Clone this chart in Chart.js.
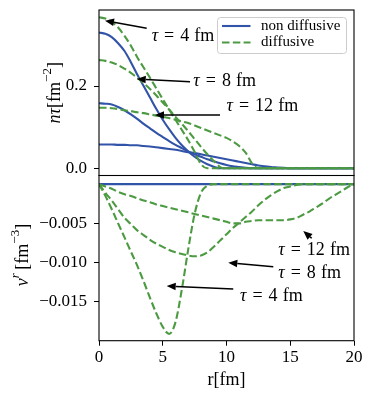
<!DOCTYPE html>
<html>
<head>
<meta charset="utf-8">
<script src="https://cdn.jsdelivr.net/npm/chart.js@4.4.1/dist/chart.umd.min.js"></script>
<style>
  html, body { margin: 0; padding: 0; background: #fff; }
  #wrap { position: relative; width: 374px; height: 402px; }
  #topChart { position: absolute; left: 0; top: 0; }
  #botChart { position: absolute; left: 0; top: 175px; }
</style>
</head>
<body>
<div id="wrap">
  <canvas id="topChart" width="374" height="176"></canvas>
  <canvas id="botChart" width="374" height="227"></canvas>
</div>
<script>
// radial grid (fm)
const rGrid = [0,0.5,1,1.5,2,2.5,3,3.5,4,4.5,5,5.5,6,6.5,7,7.5,8,8.5,9,9.5,10,
  10.5,11,11.5,12,12.5,13,13.5,14,14.5,15,15.5,16,16.5,17,17.5,18,18.5,19,19.5,20];

// n*tau [fm^-2], non diffusive, tau = 4, 8, 12 fm
const nNonDiff4 = [0.330,0.327,0.319,0.304,0.285,0.258,0.228,0.200,0.172,0.144,0.118,0.095,0.074,0.056,0.041,0.028,0.018,0.010,0.004,0.000,
  0,0,0,0,0,0,0,0,0,0,0,0,0,0,0,0,0,0,0,0,0];
const nNonDiff8 = [0.158,0.157,0.155,0.149,0.141,0.131,0.120,0.108,0.097,0.086,0.076,0.066,0.057,0.049,0.041,0.034,0.028,0.022,0.017,0.012,
  0.008,0.005,0.003,0.001,0.000,0,0,0,0,0,0,0,0,0,0,0,0,0,0,0,0];
const nNonDiff12 = [0.058,0.058,0.058,0.057,0.057,0.056,0.056,0.054,0.053,0.051,0.049,0.047,0.045,0.042,0.039,0.037,0.034,0.031,0.028,0.025,
  0.022,0.019,0.016,0.013,0.010,0.007,0.005,0.003,0.002,0.001,0.000,0,0,0,0,0,0,0,0,0,0];

// n*tau [fm^-2], diffusive
const nDiff4 = [0.367,0.364,0.356,0.342,0.322,0.298,0.270,0.245,0.220,0.194,0.168,0.143,0.118,0.093,0.068,0.040,0.010,0.000,
  0,0,0,0,0,0,0,0,0,0,0,0,0,0,0,0,0,0,0,0,0,0,0];
const nDiff8 = [0.263,0.261,0.257,0.251,0.242,0.232,0.220,0.207,0.193,0.177,0.160,0.143,0.125,0.108,0.090,0.071,0.052,0.034,0.018,0.003,
  0.000,0,0,0,0,0,0,0,0,0,0,0,0,0,0,0,0,0,0,0,0];
const nDiff12 = [0.147,0.147,0.146,0.144,0.141,0.139,0.136,0.134,0.131,0.128,0.125,0.122,0.118,0.114,0.110,0.104,0.098,0.092,0.086,0.080,
  0.074,0.065,0.054,0.038,0.012,0.000,0,0,0,0,0,0,0,0,0,0,0,0,0,0,0];

// nu^r [fm^-3]
const nuNonDiff = [0,0,0,0,0,0,0,0,0,0,0,0,0,0,0,0,0,0,0,0,0,0,0,0,0,0,0,0,0,0,0,0,0,0,0,0,0,0,0,0,0];
const nuDiff4 = [0,-0.0015,-0.0032,-0.0050,-0.0068,-0.0086,-0.0104,-0.0124,-0.0145,-0.0165,-0.0182,-0.0191,-0.0176,-0.0134,-0.0083,-0.0038,
  -0.0011,-0.0002,0,0,0,0,0,0,0,0,0,0,0,0,0,0,0,0,0,0,0,0,0,0,0];
const nuDiff8 = [0,-0.0011,-0.0021,-0.0032,-0.0043,-0.0051,-0.0059,-0.0065,-0.0071,-0.0076,-0.0080,-0.0084,-0.0087,-0.0089,-0.0091,-0.0092,
  -0.0091,-0.0087,-0.0080,-0.0072,-0.0064,-0.0056,-0.0049,-0.0042,-0.0035,-0.0027,-0.0020,-0.0014,-0.0009,-0.0005,-0.0003,-0.0001,0,
  0,0,0,0,0,0,0,0];
const nuDiff12 = [0,-0.0003,-0.0006,-0.0010,-0.0013,-0.0015,-0.0018,-0.0021,-0.0023,-0.0026,-0.0028,-0.0030,-0.0032,-0.0034,-0.0036,-0.0038,
  -0.0040,-0.0042,-0.0044,-0.0046,-0.0048,-0.0050,-0.0050,-0.0048,-0.0047,-0.0046,-0.0046,-0.0046,-0.0046,-0.0046,-0.0045,-0.0043,
  -0.0039,-0.0035,-0.0030,-0.0025,-0.0019,-0.0014,-0.0009,-0.0004,0];

// ticks
const rTicks = [0, 5, 10, 15, 20];
const nTicks = [0, 0.2];
const nuTicks = [-0.015, -0.010, -0.005];

// legend + annotations (data coordinates)
const seriesNames = ['non diffusive', 'diffusive'];
const tauValues = [4, 8, 12];
const topArrowTip = [[0.47, 0.3587], [2.96, 0.2170], [4.39, 0.1295]];
const topArrowTail = [[3.74, 0.3402], [7.14, 0.2104], [9.49, 0.1295]];
const topTextAt = [[4.13, 0.3198], [7.40, 0.2104], [10.0, 0.1497]];
const botArrowTip = [[5.31, -0.0130], [10.14, -0.01003], [16.02, -0.00598]];
const botArrowTail = [[10.53, -0.01338], [13.67, -0.01054], [16.68, -0.00691]];
const botTextAt = [[11.06, -0.01436], [14.06, -0.01138], [14.06, -0.00841]];

const FONT = '"Liberation Serif", "DejaVu Serif", serif';
const FS = 17;
const BLUE = 'rgb(50, 84, 168)';
const GREEN = 'rgb(76, 154, 66)';
const DASH = [7.5, 3.3];

function pts(arr) { return rGrid.map((x, i) => ({ x: x, y: arr[i] })); }

function line(arr, diffusive) {
  return {
    data: pts(arr),
    borderColor: diffusive ? GREEN : BLUE,
    borderWidth: 2.1,
    borderDash: diffusive ? DASH : [],
    pointRadius: 0,
    fill: false,
    cubicInterpolationMode: 'monotone',
    order: diffusive ? 0 : 1
  };
}

function font(style, size) {
  const it = style.indexOf('it') >= 0 ? 'italic ' : '';
  const sz = style.indexOf('sup') >= 0 ? Math.round(size * 0.7) : size;
  return it + sz + 'px ' + FONT;
}
function richWidth(ctx, parts, size) {
  let w = 0;
  for (const [t, s] of parts) { ctx.font = font(s, size); w += ctx.measureText(t).width; }
  return w;
}
function drawRich(ctx, parts, x, y, size) {
  for (const [t, s] of parts) {
    ctx.font = font(s, size);
    ctx.fillText(t, x, s.indexOf('sup') >= 0 ? y - size * 0.4 : y);
    x += ctx.measureText(t).width;
  }
}
function drawRotated(ctx, parts, cx, cy, size) {
  ctx.save();
  ctx.translate(cx, cy);
  ctx.rotate(-Math.PI / 2);
  ctx.textBaseline = 'middle';
  ctx.textAlign = 'left';
  drawRich(ctx, parts, -richWidth(ctx, parts, size) / 2, 0, size);
  ctx.restore();
}

function arrow(ctx, x0, y0, x1, y1) {
  const a = Math.atan2(y1 - y0, x1 - x0), hl = 9, hw = 3.8;
  const c = Math.cos(a), s = Math.sin(a);
  ctx.save();
  ctx.strokeStyle = '#000';
  ctx.fillStyle = '#000';
  ctx.lineWidth = 1.5;
  ctx.beginPath();
  ctx.moveTo(x0, y0);
  ctx.lineTo(x1 - hl * c, y1 - hl * s);
  ctx.stroke();
  ctx.beginPath();
  ctx.moveTo(x1, y1);
  ctx.lineTo(x1 - hl * c + hw * s, y1 - hl * s - hw * c);
  ctx.lineTo(x1 - hl * c - hw * s, y1 - hl * s + hw * c);
  ctx.closePath();
  ctx.fill();
  ctx.restore();
}

// math-like spacing: tau = N fm
function tauText(t) {
  return [['\u03c4', 'it'], ['\u2004=\u2004', 'rm'], [String(t), 'rm'], ['\u2009\u200afm', 'rm']];
}

function annotate(chart, tips, tails, texts) {
  const ctx = chart.ctx, sx = chart.scales.x, sy = chart.scales.y;
  ctx.save();
  ctx.fillStyle = '#000';
  ctx.textBaseline = 'middle';
  ctx.textAlign = 'left';
  tauValues.forEach((t, i) => {
    arrow(ctx, sx.getPixelForValue(tails[i][0]), sy.getPixelForValue(tails[i][1]),
      sx.getPixelForValue(tips[i][0]), sy.getPixelForValue(tips[i][1]));
    drawRich(ctx, tauText(t), sx.getPixelForValue(texts[i][0]), sy.getPixelForValue(texts[i][1]), 18);
  });
  ctx.restore();
}

function frame(chart) {
  const ctx = chart.ctx, a = chart.chartArea;
  ctx.save();
  ctx.strokeStyle = '#000';
  ctx.lineWidth = 1.1;
  ctx.strokeRect(a.left, a.top, a.right - a.left, a.bottom - a.top);
  ctx.restore();
}

function legendBox(chart) {
  const ctx = chart.ctx, a = chart.chartArea;
  const w = 129, h = 36, rad = 3;
  const l = a.right - 7.5 - w, t = a.top + 7.5;
  ctx.save();
  ctx.beginPath();
  ctx.moveTo(l + rad, t);
  ctx.arcTo(l + w, t, l + w, t + h, rad);
  ctx.arcTo(l + w, t + h, l, t + h, rad);
  ctx.arcTo(l, t + h, l, t, rad);
  ctx.arcTo(l, t, l + w, t, rad);
  ctx.closePath();
  ctx.fillStyle = 'rgba(255,255,255,0.8)';
  ctx.fill();
  ctx.strokeStyle = '#cccccc';
  ctx.lineWidth = 1;
  ctx.stroke();
  seriesNames.forEach((name, i) => {
    const y = t + 8.5 + i * 16.5;
    ctx.beginPath();
    ctx.strokeStyle = i === 0 ? BLUE : GREEN;
    ctx.lineWidth = 2.1;
    ctx.setLineDash(i === 0 ? [] : DASH);
    ctx.moveTo(l + 4.5, y);
    ctx.lineTo(l + 33, y);
    ctx.stroke();
    ctx.setLineDash([]);
    ctx.fillStyle = '#000';
    ctx.font = '15px ' + FONT;
    ctx.textBaseline = 'middle';
    ctx.fillText(name, l + 43.5, y);
  });
  ctx.restore();
}

function noPad(width, height) {
  return s => {
    if (width) s.width = width;
    if (height) s.height = height;
    s.paddingTop = 0; s.paddingBottom = 0; s.paddingLeft = 0; s.paddingRight = 0;
  };
}

const tickFont = { family: FONT, size: FS };
const tickGrid = { drawOnChartArea: false, drawTicks: true, tickLength: 5, color: '#000', lineWidth: 1 };

// upper panel: n tau
new Chart(document.getElementById('topChart'), {
  type: 'line',
  data: {
    datasets: [line(nNonDiff4, false), line(nNonDiff8, false), line(nNonDiff12, false),
      line(nDiff4, true), line(nDiff8, true), line(nDiff12, true)]
  },
  options: {
    responsive: false,
    devicePixelRatio: 1,
    animation: false,
    events: [],
    layout: { padding: { left: 0, right: 20, top: 10, bottom: 0.5 } },
    plugins: { legend: { display: false }, tooltip: { enabled: false } },
    scales: {
      x: { type: 'linear', min: 0, max: 20, display: false, afterFit: noPad() },
      y: {
        min: -0.0175, max: 0.3847,
        afterFit: noPad(99),
        afterBuildTicks: s => { s.ticks = nTicks.map(v => ({ value: v })); },
        ticks: { font: tickFont, color: '#000', padding: 7, callback: v => v.toFixed(1) },
        grid: tickGrid,
        border: { display: false }
      }
    }
  },
  plugins: [{
    id: 'topDecor',
    afterDraw(chart) {
      frame(chart);
      legendBox(chart);
      annotate(chart, topArrowTip, topArrowTail, topTextAt);
      const a = chart.chartArea;
      chart.ctx.fillStyle = '#000';
      drawRotated(chart.ctx, [['n\u03c4', 'it'], ['[fm', 'rm'], ['\u22122', 'sup'], [']', 'rm']],
        a.left - 44, (a.top + a.bottom) / 2, 18);
    }
  }]
});

// lower panel: nu^r
new Chart(document.getElementById('botChart'), {
  type: 'line',
  data: {
    datasets: [line(nuNonDiff, false), line(nuDiff4, true), line(nuDiff8, true), line(nuDiff12, true)]
  },
  options: {
    responsive: false,
    devicePixelRatio: 1,
    animation: false,
    events: [],
    layout: { padding: { left: 0, right: 20, top: 0.5, bottom: 0 } },
    plugins: { legend: { display: false }, tooltip: { enabled: false } },
    scales: {
      x: {
        type: 'linear', min: 0, max: 20,
        afterFit: noPad(0, 61.3),
        afterBuildTicks: s => { s.ticks = rTicks.map(v => ({ value: v })); },
        ticks: { font: tickFont, color: '#000', padding: 2, maxRotation: 0, callback: v => String(v) },
        grid: tickGrid,
        border: { display: false }
      },
      y: {
        min: -0.01997, max: 0.0011,
        afterFit: noPad(99),
        afterBuildTicks: s => { s.ticks = nuTicks.map(v => ({ value: v })); },
        ticks: { font: tickFont, color: '#000', padding: 7, callback: v => '\u2212' + Math.abs(v).toFixed(3) },
        grid: tickGrid,
        border: { display: false }
      }
    }
  },
  plugins: [{
    id: 'botDecor',
    afterDraw(chart) {
      frame(chart);
      annotate(chart, botArrowTip, botArrowTail, botTextAt);
      const a = chart.chartArea, ctx = chart.ctx;
      ctx.fillStyle = '#000';
      drawRotated(ctx, [['\u03bd', 'it'], ['r', 'supit'], ['\u2009[fm', 'rm'], ['\u22123', 'sup'], [']', 'rm']],
        a.left - 76, (a.top + a.bottom) / 2 - 3, 18);
      ctx.save();
      ctx.textBaseline = 'middle';
      ctx.textAlign = 'left';
      const parts = [['r[fm]', 'rm']];
      drawRich(ctx, parts, (a.left + a.right) / 2 - richWidth(ctx, parts, 18) / 2, a.bottom + 40, 18);
      ctx.restore();
    }
  }]
});
</script>
</body>
</html>
